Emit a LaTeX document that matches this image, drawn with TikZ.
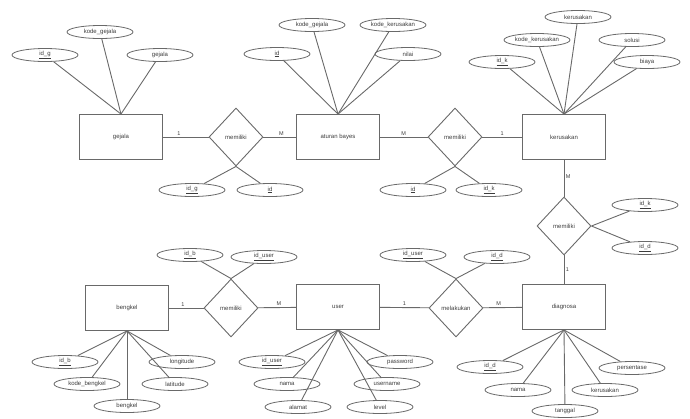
\documentclass[tikz,border=0pt]{standalone}
\usepackage{fontspec}
\setmainfont{Liberation Sans}
\usetikzlibrary{positioning, shapes.geometric}
\definecolor{erline}{RGB}{105, 105, 105}
\definecolor{ertext}{RGB}{60, 60, 60}

\begin{document}
\begin{tikzpicture}[
    x=1pt, y=-1pt,
    font=\fontsize{6}{7}\selectfont,
    % Styles definition
    entity/.style={draw=erline, line width=0.9pt, rectangle, minimum width=83pt, minimum height=45pt, inner sep=0pt, text=ertext},
    relation/.style={draw=erline, line width=0.9pt, diamond, minimum width=54pt, minimum height=58pt, inner sep=0pt, text=ertext},
    attrib/.style={draw=erline, line width=0.8pt, ellipse, minimum width=66pt, minimum height=13pt, inner sep=0pt, text=ertext},
    link/.style={draw=erline, line width=0.9pt},
    card/.style={above, font=\fontsize{5.5}{6}\selectfont, text=ertext, inner sep=1.5pt}
]
\useasboundingbox (0,0) rectangle (690,418);

% 1. Top row
\node[entity] (gejala) at (121,137) {gejala};
\node[relation] (memiliki1) at (236,137) {memiliki};
\node[entity] (aturan) at (338,137) {aturan bayes};
\node[relation] (memiliki2) at (455,137) {memiliki};
\node[entity] (kerusakan) at (564,137) {kerusakan};

% 2. Right column
\node[relation] (memiliki3) at (564,226) {memiliki};
\node[entity] (diagnosa) at (564,307) {diagnosa};

% 3. Bottom row
\node[relation] (melakukan) at (456,308) {melakukan};
\node[entity] (user) at (338,307) {user};
\node[relation] (memiliki4) at (231,308) {memiliki};
\node[entity] (bengkel) at (127,308) {bengkel};

% --- Attributes ---

% gejala
\node[attrib] (g_id) at (45,55) {\underline{id\_g}};
\node[attrib] (g_kode) at (100,32) {kode\_gejala};
\node[attrib] (g_nama) at (160,55) {gejala};
\foreach \a in {g_id, g_kode, g_nama}
    \draw[link] (gejala.north) -- (\a);

% memiliki (gejala - aturan bayes)
\node[attrib] (m1_idg) at (192,190) {\underline{id\_g}};
\node[attrib] (m1_id) at (270,190) {\underline{id}};
\draw[link] (memiliki1.south) -- (m1_idg);
\draw[link] (memiliki1.south) -- (m1_id);

% aturan bayes
\node[attrib] (a_id) at (277,54) {\underline{id}};
\node[attrib] (a_kgejala) at (312,25) {kode\_gejala};
\node[attrib] (a_kkerusakan) at (393,25) {kode\_kerusakan};
\node[attrib] (a_nilai) at (408,54) {nilai};
\foreach \a in {a_id, a_kgejala, a_kkerusakan, a_nilai}
    \draw[link] (aturan.north) -- (\a);

% memiliki (aturan bayes - kerusakan)
\node[attrib] (m2_id) at (413,190) {\underline{id}};
\node[attrib] (m2_idk) at (489,190) {\underline{id\_k}};
\draw[link] (memiliki2.south) -- (m2_id);
\draw[link] (memiliki2.south) -- (m2_idk);

% kerusakan
\node[attrib] (k_id) at (502,62) {\underline{id\_k}};
\node[attrib] (k_kode) at (537,40) {kode\_kerusakan};
\node[attrib] (k_nama) at (578,17) {kerusakan};
\node[attrib] (k_solusi) at (632,40) {solusi};
\node[attrib] (k_biaya) at (647,62) {biaya};
\foreach \a in {k_id, k_kode, k_nama, k_solusi, k_biaya}
    \draw[link] (kerusakan.north) -- (\a);

% memiliki (kerusakan - diagnosa)
\node[attrib] (m3_idk) at (645,205) {\underline{id\_k}};
\node[attrib] (m3_idd) at (645,248) {\underline{id\_d}};
\draw[link] (memiliki3.east) -- (m3_idk);
\draw[link] (memiliki3.east) -- (m3_idd);

% diagnosa
\node[attrib] (d_id) at (490,367) {\underline{id\_d}};
\node[attrib] (d_nama) at (518,390) {nama};
\node[attrib] (d_tanggal) at (565,411) {tanggal};
\node[attrib] (d_kerusakan) at (605,390) {kerusakan};
\node[attrib] (d_persen) at (632,368) {persentase};
\foreach \a in {d_id, d_nama, d_tanggal, d_kerusakan, d_persen}
    \draw[link] (diagnosa.south) -- (\a);

% melakukan (user - diagnosa)
\node[attrib] (l_iduser) at (413,255) {\underline{id\_user}};
\node[attrib] (l_idd) at (497,257) {\underline{id\_d}};
\draw[link] (melakukan.north) -- (l_iduser);
\draw[link] (melakukan.north) -- (l_idd);

% user
\node[attrib] (u_id) at (272,362) {\underline{id\_user}};
\node[attrib] (u_nama) at (287,384) {nama};
\node[attrib] (u_alamat) at (298,407) {alamat};
\node[attrib] (u_pass) at (400,362) {password};
\node[attrib] (u_uname) at (387,384) {username};
\node[attrib] (u_level) at (380,407) {level};
\foreach \a in {u_id, u_nama, u_alamat, u_pass, u_uname, u_level}
    \draw[link] (user.south) -- (\a);

% memiliki (bengkel - user)
\node[attrib] (m4_idb) at (190,255) {\underline{id\_b}};
\node[attrib] (m4_iduser) at (264,257) {\underline{id\_user}};
\draw[link] (memiliki4.north) -- (m4_idb);
\draw[link] (memiliki4.north) -- (m4_iduser);

% bengkel
\node[attrib] (b_id) at (65,362) {\underline{id\_b}};
\node[attrib] (b_kode) at (87,384) {kode\_bengkel};
\node[attrib] (b_nama) at (127,406) {bengkel};
\node[attrib] (b_lat) at (175,384) {latitude};
\node[attrib] (b_long) at (182,362) {longitude};
\foreach \a in {b_id, b_kode, b_nama, b_lat, b_long}
    \draw[link] (bengkel.south) -- (\a);

% --- Relationships / cardinality ---
\draw[link] (gejala) -- node[card, pos=0.35] {1} (memiliki1);
\draw[link] (memiliki1) -- node[card, pos=0.55] {M} (aturan);
\draw[link] (aturan) -- node[card, pos=0.5] {M} (memiliki2);
\draw[link] (memiliki2) -- node[card, pos=0.5] {1} (kerusakan);
\draw[link] (kerusakan) -- node[card, right, pos=0.45] {M} (memiliki3);
\draw[link] (memiliki3) -- node[card, right, pos=0.5] {1} (diagnosa);
\draw[link] (melakukan) -- node[card, pos=0.4] {M} (diagnosa);
\draw[link] (user) -- node[card, pos=0.5] {1} (melakukan);
\draw[link] (memiliki4) -- node[card, pos=0.55] {M} (user);
\draw[link] (bengkel) -- node[card, pos=0.4] {1} (memiliki4);

\end{tikzpicture}
\end{document}
